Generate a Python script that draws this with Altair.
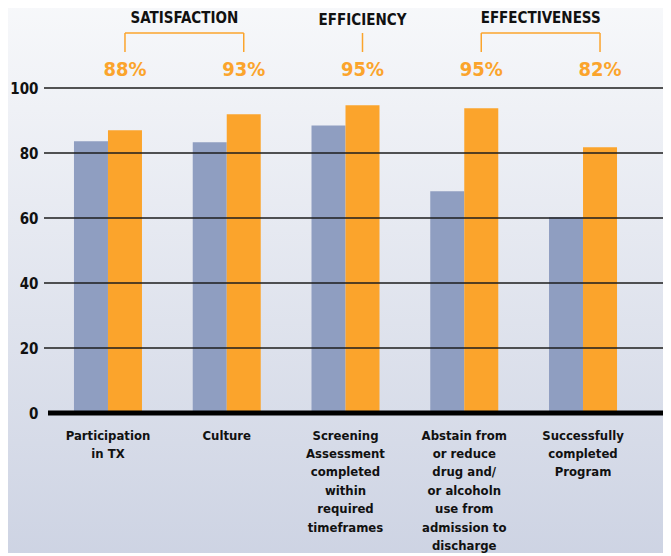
import altair as alt
import pandas as pd

FONT = "Liberation Sans Narrow, DejaVu Sans Condensed, Roboto Condensed, Arial Narrow, sans-serif"

# ---- data -------------------------------------------------------------
categories = [
    "Participation|in TX",
    "Culture",
    "Screening|Assessment|completed|within|required|timeframes",
    "Abstain from|or reduce|drug and/|or alcoholn|use from|admission to|discharge",
    "Successfully|completed|Program",
]
series_names = ["Benchmark", "Program"]
benchmark_values = [83.6, 83.3, 88.5, 68.2, 60.2]
program_values = [87.0, 91.9, 94.7, 93.8, 81.8]
percent_labels = ["88%", "93%", "95%", "95%", "82%"]
y_ticks = [0, 20, 40, 60, 80, 100]

group_headers = ["SATISFACTION", "EFFICIENCY", "EFFECTIVENESS"]
group_start = [categories[0], categories[2], categories[3]]
group_end = [categories[1], categories[2], categories[4]]

GREY = "#8f9ec1"
ORANGE = "#fba42c"

W, H = 615, 325
RANGE_END = 595
P_IN, P_OUT = 0.4274, 0.2187
STEP = RANGE_END / (len(categories) - P_IN + 2 * P_OUT)
ORANGE_POS = 0.75

bars_df = pd.DataFrame(
    [{"cat": c, "series": series_names[0], "value": v} for c, v in zip(categories, benchmark_values)]
    + [{"cat": c, "series": series_names[1], "value": v} for c, v in zip(categories, program_values)]
)
pct_df = pd.DataFrame({"cat": categories, "label": percent_labels})
grp_df = pd.DataFrame({"header": group_headers, "cat": group_start, "cat2": group_end})
pair_df = grp_df[grp_df["cat"] != grp_df["cat2"]]
single_df = grp_df[grp_df["cat"] == grp_df["cat2"]]
legs_df = pd.DataFrame({"cat": categories})
grid_df = pd.DataFrame({"v": [t for t in y_ticks if t != 0]})
zero_df = pd.DataFrame({"v": [0]})

yscale = alt.Scale(domain=[0, 100], nice=False)


def xscale():
    return alt.Scale(domain=categories, range=[0, RANGE_END], paddingInner=P_IN, paddingOuter=P_OUT)


# ---- background gradient ------------------------------------------------
bg = alt.Chart(alt.Data(values=[{"k": 1}])).mark_rect(
    fill=alt.LinearGradient(
        gradient="linear", x1=0, x2=0, y1=0, y2=1,
        stops=[alt.GradientStop(offset=0, color="#f8f9fb"),
               alt.GradientStop(offset=1, color="#cdd3e3")],
    )
).encode(
    x=alt.value(-60), x2=alt.value(W + 20), y=alt.value(-100), y2=alt.value(H + 150)
)

# ---- bars -------------------------------------------------------------
bars = alt.Chart(bars_df).mark_bar().encode(
    x=alt.X(
        "cat:N", scale=xscale(), title=None,
        axis=alt.Axis(
            labelExpr="split(datum.value, '|')", labelAngle=0, labelFont=FONT,
            labelFontWeight="bold", labelFontSize=13, labelLineHeight=18.4,
            labelColor="#111111", labelPadding=16, ticks=False, domain=False,
            labelOverlap=False, labelLimit=300, zindex=1,
        ),
    ),
    xOffset=alt.XOffset("series:N", scale=alt.Scale(domain=series_names, paddingInner=0, paddingOuter=0)),
    y=alt.Y(
        "value:Q", scale=yscale, title=None,
        axis=alt.Axis(
            values=y_ticks, grid=False, domain=False, ticks=False, labelFont=FONT,
            labelFontWeight="bold", labelFontSize=15, labelColor="#111111",
            labelPadding=10, zindex=1,
        ),
    ),
    color=alt.Color("series:N", scale=alt.Scale(domain=series_names, range=[GREY, ORANGE]), legend=None),
)

# ---- grid lines on top of the bars ---------------------------------------
grid = alt.Chart(grid_df).mark_rule(color="#1c1c1c", strokeWidth=1.7).encode(
    y=alt.Y("v:Q", scale=yscale), x=alt.value(-4), x2=alt.value(W + 10)
)
zero = alt.Chart(zero_df).mark_rule(color="#000000", strokeWidth=5).encode(
    y=alt.Y("v:Q", scale=yscale), x=alt.value(0), x2=alt.value(W + 10)
)

# ---- annotations --------------------------------------------------------
pct = alt.Chart(pct_df).mark_text(
    font=FONT, fontWeight="bold", fontSize=20, color=ORANGE, baseline="middle"
).encode(
    x=alt.X("cat:N", scale=xscale(), bandPosition=ORANGE_POS),
    y=alt.value(-18),
    text="label:N",
)

legs = alt.Chart(legs_df).mark_rule(color=ORANGE, strokeWidth=1.5).encode(
    x=alt.X("cat:N", scale=xscale(), bandPosition=ORANGE_POS),
    y=alt.value(-55), y2=alt.value(-36),
)

spans = alt.Chart(pair_df).mark_rule(color=ORANGE, strokeWidth=1.5).encode(
    x=alt.X("cat:N", scale=xscale(), bandPosition=ORANGE_POS),
    x2=alt.X2("cat2:N", bandPosition=ORANGE_POS),
    y=alt.value(-55),
)

pair_head = alt.Chart(pair_df).mark_text(
    font=FONT, fontWeight="bold", fontSize=15, color="#111111", baseline="middle", dx=STEP / 2
).encode(
    x=alt.X("cat:N", scale=xscale(), bandPosition=ORANGE_POS),
    y=alt.value(-70),
    text="header:N",
)

single_head = alt.Chart(single_df).mark_text(
    font=FONT, fontWeight="bold", fontSize=15, color="#111111", baseline="middle"
).encode(
    x=alt.X("cat:N", scale=xscale(), bandPosition=ORANGE_POS),
    y=alt.value(-68),
    text="header:N",
)

chart = alt.layer(bg, bars, grid, zero, legs, spans, pct, pair_head, single_head).properties(
    width=W, height=H,
    autosize=alt.AutoSizeParams(type="none"),
    padding={"left": 40, "top": 80, "right": 0, "bottom": 140},
    background="#e4e7ef",
).configure_view(stroke=None)

chart.save("out.html", embed_options={"renderer": "svg", "actions": False})
